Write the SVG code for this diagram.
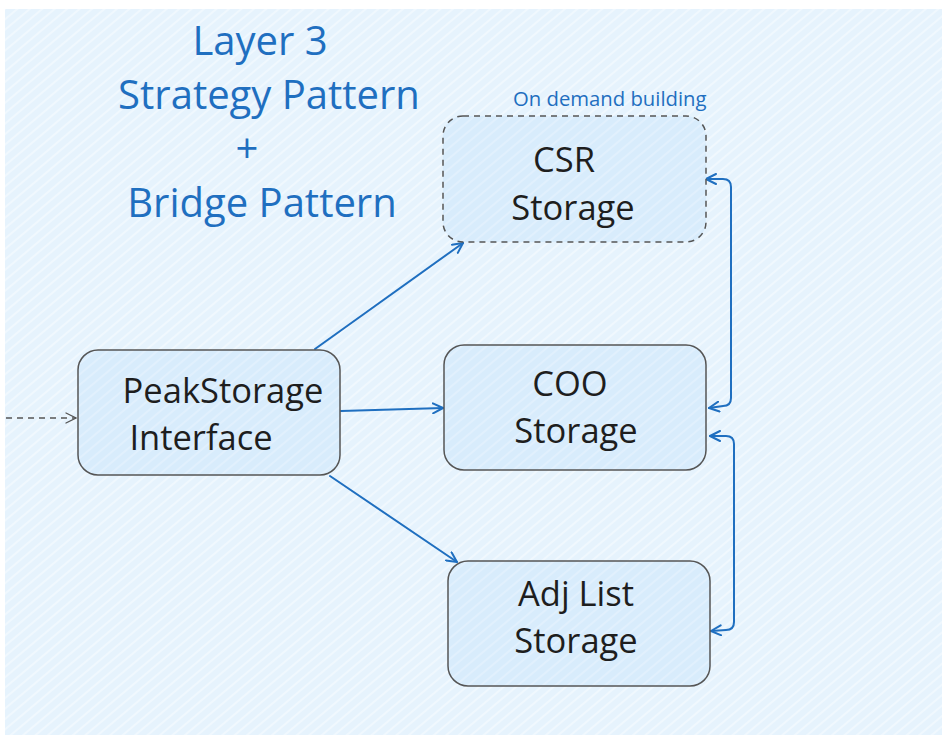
<svg xmlns="http://www.w3.org/2000/svg" width="951" height="741" viewBox="0 0 951 741">
<style>
.title{font-family:"Open Sans","Noto Sans",sans-serif;font-size:40px;fill:#1f6fc0;text-anchor:middle}
.lbl{font-family:"Open Sans","Noto Sans",sans-serif;font-size:34.5px;fill:#1e1e1e;text-anchor:middle}
.note{font-family:"Open Sans","Noto Sans",sans-serif;font-size:20.3px;fill:#1f6fc0}
.box{fill:url(#boxhatch);stroke:#555;stroke-width:1.5}
.edge{fill:none;stroke:#1f6fc0;stroke-width:2;stroke-linecap:round;stroke-linejoin:round}
.ah{fill:none;stroke:#1f6fc0;stroke-width:2;stroke-linecap:round;stroke-linejoin:round}
</style>
<defs>
<pattern id="bghatch" width="8" height="8" patternUnits="userSpaceOnUse" patternTransform="rotate(-40)">
<rect width="8" height="8" fill="#e6f3fd"/>
<line x1="0" y1="2" x2="8" y2="2" stroke="#ffffff" stroke-width="1.3" stroke-opacity="0.6"/>
</pattern>
<pattern id="boxhatch" width="8" height="8" patternUnits="userSpaceOnUse" patternTransform="rotate(-40)">
<rect width="8" height="8" fill="#d8ecfc"/>
<line x1="0" y1="2" x2="8" y2="2" stroke="#ffffff" stroke-width="1" stroke-opacity="0.45"/>
</pattern>
<marker id="arr" viewBox="0 0 12 12" refX="11" refY="6" markerWidth="12" markerHeight="12" markerUnits="userSpaceOnUse" orient="auto-start-reverse">
<path d="M1,1 L11,6 L1,11" class="ah"/>
</marker>
<marker id="arrg" viewBox="0 0 12 12" refX="11" refY="6" markerWidth="12" markerHeight="12" markerUnits="userSpaceOnUse" orient="auto">
<path d="M1,1 L11,6 L1,11" fill="none" stroke="#555" stroke-width="1.3" stroke-linecap="round"/>
</marker>
</defs>
<rect x="0" y="0" width="951" height="741" fill="#ffffff"/>
<rect x="5" y="9" width="937" height="726" fill="url(#bghatch)"/>

<g id="title">
<text class="title" x="260" y="55">Layer 3</text>
<text class="title" x="269" y="109">Strategy Pattern</text>
<text class="title" x="247" y="163">+</text>
<text class="title" x="262" y="217">Bridge Pattern</text>
</g>

<g id="connectors">
<path d="M6,418 L76,418" fill="none" stroke="#555" stroke-width="1.3" stroke-dasharray="6 5" marker-end="url(#arrg)"/>
<path class="edge" d="M315,349 L463,243" marker-end="url(#arr)"/>
<path class="edge" d="M341,411 L443,408" marker-end="url(#arr)"/>
<path class="edge" d="M330,476 L457,562" marker-end="url(#arr)"/>
<path class="edge" d="M706,179 L723,179 Q731,179 731,187 L731,398 Q731,406 723,406 L709,408" marker-start="url(#arr)" marker-end="url(#arr)"/>
<path class="edge" d="M710,436 L726,436 Q734,436 734,444 L734,622 Q734,630 726,630 L711,631" marker-start="url(#arr)" marker-end="url(#arr)"/>
</g>

<g id="note">
<text class="note" x="513" y="106">On demand building</text>
</g>

<g id="node-csr">
<rect class="box" x="443" y="116" width="263" height="126" rx="20" stroke-dasharray="6 5"/>
<text class="lbl" x="564" y="172">CSR</text>
<text class="lbl" x="573" y="220">Storage</text>
</g>

<g id="node-coo">
<rect class="box" x="444" y="345" width="262" height="125" rx="20"/>
<text class="lbl" x="570" y="396">COO</text>
<text class="lbl" x="576" y="443">Storage</text>
</g>

<g id="node-adj">
<rect class="box" x="448" y="561" width="262" height="125" rx="20"/>
<text class="lbl" x="576" y="606">Adj List</text>
<text class="lbl" x="576" y="653">Storage</text>
</g>

<g id="node-peak">
<rect class="box" x="78" y="350" width="262" height="125" rx="20"/>
<text class="lbl" x="223" y="403">PeakStorage</text>
<text class="lbl" x="201" y="450">Interface</text>
</g>
</svg>
